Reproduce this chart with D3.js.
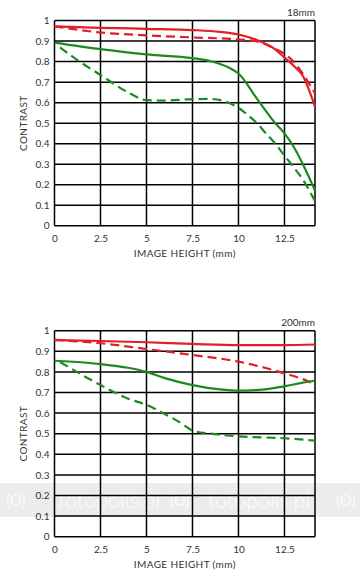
<!DOCTYPE html>
<html><head><meta charset="utf-8">
<script src="https://cdn.jsdelivr.net/npm/d3@7"></script>
<style>
html,body{margin:0;padding:0;background:#fff;}
svg{display:block;font-family:Lato,"Noto Sans",sans-serif;}
</style></head>
<body>
<script>
// ---- data ----
const xTicks = [0, 2.5, 5, 7.5, 10, 12.5];
const xTickLabels = ["0", "2.5", "5", "7.5", "10", "12.5"];
const yTicks = [0, 0.1, 0.2, 0.3, 0.4, 0.5, 0.6, 0.7, 0.8, 0.9, 1];
const yTickLabels = ["0", "0.1", "0.2", "0.3", "0.4", "0.5", "0.6", "0.7", "0.8", "0.9", "1"];
const xMax = 14.16;
const chartTitles = ["18mm", "200mm"];
const xTitle = "IMAGE HEIGHT (mm)";
const yTitle = "CONTRAST";
const watermarkLogo = "(O)";
const watermarkText = "fotopolis.pl";

// 18mm
const w18_redSolid = [[0,0.972],[2.5,0.965],[5,0.96],[7.5,0.954],[9,0.945],[10,0.932],[11,0.905],[12,0.86],[12.5,0.82],[13,0.78],[13.5,0.73],[14.16,0.58]];
const w18_redDash  = [[0,0.972],[2.5,0.942],[5,0.928],[7.5,0.918],[10,0.908],[11,0.898],[12,0.862],[12.5,0.838],[13,0.8],[13.5,0.74],[14.16,0.645]];
const w18_greenSolid = [[0,0.893],[2.5,0.861],[5,0.835],[7.5,0.817],[8.5,0.802],[9.5,0.77],[10,0.742],[11,0.62],[12,0.5],[12.5,0.45],[13,0.385],[13.5,0.3],[14.16,0.172]];
const w18_greenDash  = [[0.3,0.87],[1.2,0.81],[2.5,0.735],[4,0.65],[5,0.612],[6,0.61],[7.5,0.617],[8.5,0.618],[9.5,0.598],[10,0.575],[10.5,0.54],[11,0.5],[11.5,0.45],[12,0.4],[12.5,0.342],[13,0.285],[13.5,0.225],[14.16,0.12]];

// 200mm
const t200_redSolid = [[0,0.955],[2.5,0.95],[5,0.944],[7.5,0.936],[10,0.93],[12.5,0.93],[14.16,0.933]];
const t200_redDash  = [[0,0.955],[2.5,0.939],[5,0.911],[7.5,0.882],[10,0.85],[12.5,0.793],[13.5,0.765],[14.16,0.741]];
const t200_greenSolid = [[0,0.854],[2.5,0.838],[4,0.82],[5,0.8],[6,0.77],[7.5,0.736],[9,0.715],[10,0.709],[11,0.712],[12.5,0.73],[13.5,0.748],[14.16,0.757]];
const t200_greenDash  = [[0.3,0.848],[2.5,0.736],[4,0.67],[5,0.64],[6,0.595],[7,0.545],[7.5,0.515],[8.5,0.5],[10,0.487],[12.5,0.478],[14.16,0.466]];

const charts = [
  {title: chartTitles[0], series: [w18_redDash, w18_redSolid, w18_greenDash, w18_greenSolid]},
  {title: chartTitles[1], series: [t200_redDash, t200_redSolid, t200_greenDash, t200_greenSolid]}
];
const seriesStyles = [
  {color: "#e41e26", dash: "9,5"},
  {color: "#e41e26", dash: null},
  {color: "#1d8a1f", dash: "9,5"},
  {color: "#1d8a1f", dash: null}
];

const W = 360, H = 578;
const svg = d3.select("body").append("svg").attr("width", W).attr("height", H);

const panels = [{top: 20.6, bottom: 225.7}, {top: 330.7, bottom: 536.7}];
const left = 54.5, right = 315;
const textColor = "#333";

charts.forEach((c, i) => {
  const p = panels[i];
  const g = svg.append("g");
  const x = d3.scaleLinear().domain([0, xMax]).range([left, right]);
  const y = d3.scaleLinear().domain([0, 1]).range([p.bottom, p.top]);

  // watermark band behind the bottom chart grid
  if (i === 1) {
    const wm = g.append("g");
    wm.append("rect").attr("x", 0).attr("y", 483).attr("width", W).attr("height", 34)
      .attr("fill", "#e9e9e9").attr("opacity", 0.85);
    [6, 170, 336].forEach(px => {
      wm.append("text").attr("x", px).attr("y", 506).attr("font-size", 15)
        .attr("fill", "#fbfbfb").text(watermarkLogo);
    });
    [58, 208].forEach(px => {
      wm.append("text").attr("x", px).attr("y", 508).attr("font-size", 21.5)
        .attr("fill", "#fbfbfb").attr("font-weight", 300)
        .text(watermarkText);
    });
  }

  // grid
  g.append("g").selectAll("line").data(yTicks).join("line")
    .attr("x1", left).attr("x2", right)
    .attr("y1", d => y(d)).attr("y2", d => y(d))
    .attr("stroke", "#000").attr("stroke-width", 1.5);
  g.append("g").selectAll("line").data(xTicks.concat([xMax])).join("line")
    .attr("x1", d => x(d)).attr("x2", d => x(d))
    .attr("y1", p.top).attr("y2", p.bottom)
    .attr("stroke", "#000").attr("stroke-width", 1.5);

  // axes labels via d3 axes
  const xAxis = d3.axisBottom(x).tickValues(xTicks).tickFormat((d, k) => xTickLabels[k]).tickSize(0).tickPadding(9);
  const ax = g.append("g").attr("transform", `translate(0,${p.bottom})`).call(xAxis);
  ax.select(".domain").remove();
  ax.selectAll("text").attr("font-size", 10).attr("fill", textColor).attr("font-family", "Lato, sans-serif");

  const yAxis = d3.axisLeft(y).tickValues(yTicks).tickFormat((d, k) => yTickLabels[k]).tickSize(0).tickPadding(5);
  const ay = g.append("g").attr("transform", `translate(${left},0)`).call(yAxis);
  ay.select(".domain").remove();
  ay.selectAll("text").attr("font-size", 10).attr("fill", textColor).attr("font-family", "Lato, sans-serif");

  g.append("text").attr("x", (left + right) / 2).attr("y", p.bottom + 31)
    .attr("text-anchor", "middle").attr("font-size", 10).attr("letter-spacing", 0.4)
    .attr("fill", textColor).text(xTitle);
  g.append("text").attr("transform", `translate(27,${(p.top + p.bottom) / 2}) rotate(-90)`)
    .attr("text-anchor", "middle").attr("font-size", 10).attr("letter-spacing", 0.4)
    .attr("fill", textColor).text(yTitle);
  g.append("text").attr("x", right).attr("y", p.top - 5)
    .attr("text-anchor", "end").attr("font-size", 10).attr("fill", textColor).text(c.title);

  const line = d3.line().x(d => x(d[0])).y(d => y(d[1])).curve(d3.curveMonotoneX);
  c.series.forEach((s, k) => {
    const st = seriesStyles[k];
    g.append("path").datum(s).attr("d", line)
      .attr("fill", "none").attr("stroke", st.color).attr("stroke-width", 2.2)
      .attr("stroke-dasharray", st.dash);
  });
});
</script>
</body></html>
